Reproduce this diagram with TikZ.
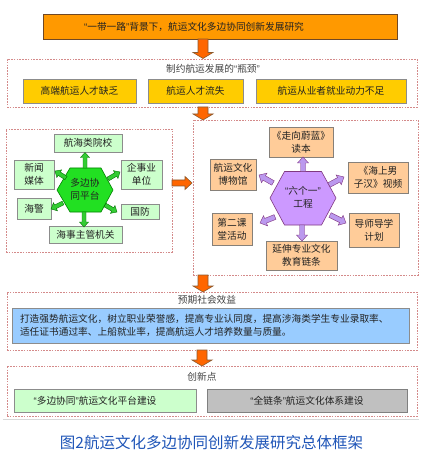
\documentclass[tikz,border=0pt]{standalone}
\usepackage{fontspec}
\setmainfont{Noto Sans CJK SC}
\newfontfamily\latq{Liberation Sans}
\newcommand\oq{{\latq “}}
\newcommand\cq{{\latq ”}}
\usetikzlibrary{calc}
\definecolor{topor}{HTML}{FF9900}
\definecolor{arrow}{HTML}{FF6600}
\definecolor{arrowbd}{HTML}{8C5A2E}
\definecolor{dashc}{HTML}{D48A8A}
\definecolor{yel}{HTML}{FFCC00}
\definecolor{lgreen}{HTML}{CCFFCC}
\definecolor{hgreen}{HTML}{22E022}
\definecolor{garrow}{HTML}{33CC33}
\definecolor{lorange}{HTML}{FFCC99}
\definecolor{purp}{HTML}{CC99FF}
\definecolor{parrow}{HTML}{BB99EE}
\definecolor{lblue}{HTML}{99CCFF}
\definecolor{gbox}{HTML}{C0C0C0}
\definecolor{capblue}{HTML}{1F55B8}
\definecolor{txt}{HTML}{222222}
\newcommand\barrow[6]{%
  \coordinate (bh) at ($(#3)!#6!(#2)$);
  \draw[#1] ($(#2)!#4!90:(#3)$) -- ($(bh)!#4!90:(#3)$) -- ($(bh)!#5!90:(#3)$) -- (#3)
    -- ($(bh)!#5!-90:(#3)$) -- ($(bh)!#4!-90:(#3)$) -- ($(#2)!#4!-90:(#3)$) -- cycle;}
\begin{document}
\begin{tikzpicture}[x=1pt,y=-1pt,
  every node/.style={text=txt, font=\fontsize{9.7pt}{13pt}\selectfont},
  boxbase/.style={draw=#1, line width=0.7pt, inner sep=0pt, align=center},
  topbox/.style={boxbase=arrowbd!80!black, fill=topor},
  yelbox/.style={boxbase=gray!90, fill=yel},
  grbox/.style={boxbase=gray!90, fill=lgreen},
  orbox/.style={boxbase=gray!90!brown, fill=lorange},
  blbox/.style={boxbase=gray!90, fill=lblue},
  gybox/.style={boxbase=gray, fill=gbox},
  dbox/.style={draw=dashc, line width=0.7pt, dash pattern=on 1.6pt off 1.2pt, inner sep=0pt},
  ttl/.style={text=txt!85},
  bigarr/.style={fill=arrow, draw=arrowbd, line width=0.6pt},
  grarr/.style={fill=garrow, draw=green!45!black, line width=0.4pt},
  prarr/.style={fill=parrow, draw=violet!60!gray, line width=0.4pt},
]
\useasboundingbox (0,0) rectangle (427,454);
\fill[white] (0,0) rectangle (427,454);

% top
\node[topbox, minimum width=354pt, minimum height=25pt] (top) at (220,26.5) {\oq 一带一路\cq 背景下，航运文化多边协同创新发展研究\hspace{52pt}};

% bottleneck box
\node[dbox, minimum width=410pt, minimum height=48pt] (bneck) at (212,83) {};
\node[ttl] (bneckt) at (213,68.5) {制约航运发展的\oq 瓶颈\cq};
\node[yelbox, minimum width=113pt, minimum height=24pt] (y1) at (79.5,91) {高端航运人才缺乏};
\node[yelbox, minimum width=95pt, minimum height=24pt] (y2) at (195.5,91) {航运人才流失};
\node[yelbox, minimum width=150pt, minimum height=24pt] (y3) at (331,91) {航运从业者就业动力不足};

% left cluster
\node[dbox, minimum width=166pt, minimum height=123pt] (left) at (89,190.5) {};
\draw[fill=hgreen, draw=green!50!black, line width=0.6pt] (57,190) -- (70,168) -- (101,168) -- (113,190) -- (101,212) -- (70,212) -- cycle;
\node[align=center] (hexL) at (85,189.5) {多边协\\同平台};
\node[grbox, minimum width=68pt, minimum height=18pt] (gb1) at (88,143) {航海类院校};
\node[grbox, minimum width=40pt, minimum height=29pt] (gb2) at (34,174.5) {新闻\\媒体};
\node[grbox, minimum width=41pt, minimum height=29pt] (gb3) at (141.5,174.5) {企事业\\单位};
\node[grbox, minimum width=34pt, minimum height=21pt] (gb4) at (34,208.5) {海警};
\node[grbox, minimum width=38pt, minimum height=15pt] (gb5) at (140,211.5) {国防};
\node[grbox, minimum width=73pt, minimum height=17pt] (gb6) at (85.5,234.5) {海事主管机关};
\coordinate (g1s) at (85,168); \coordinate (g1e) at (85,152.5);
\coordinate (g2s) at (66,178); \coordinate (g2e) at (55,171);
\coordinate (g3s) at (108,179); \coordinate (g3e) at (120,172);
\coordinate (g4s) at (63,203); \coordinate (g4e) at (51,209);
\coordinate (g5s) at (105,205); \coordinate (g5e) at (117,212);
\coordinate (g6s) at (84,212); \coordinate (g6e) at (84,227);
\foreach \i in {1,...,6}{\barrow{grarr}{g\i s}{g\i e}{2pt}{4.5pt}{5pt}}

% right cluster
\node[dbox, minimum width=225pt, minimum height=155pt] (right) at (305.5,197.5) {};
\draw[fill=purp, draw=violet!55!gray, line width=0.6pt] (270,198) -- (284.5,171.5) -- (321.5,171.5) -- (336,198) -- (321.5,225) -- (284.5,225) -- cycle;
\node[align=center] (hexR) at (303,197.5) {\oq 六个一\cq\\工程};
\node[orbox, minimum width=64pt, minimum height=30pt] (ob1) at (301,142) {《走向蔚蓝》\\读本};
\node[orbox, minimum width=46pt, minimum height=31pt] (ob2) at (233,174.5) {航运文化\\博物馆};
\node[orbox, minimum width=60pt, minimum height=31pt] (ob3) at (378,177.5) {《海上男\\子汉》视频};
\node[orbox, minimum width=40pt, minimum height=32pt] (ob4) at (232,229) {第二课\\堂活动};
\node[orbox, minimum width=50pt, minimum height=34pt] (ob5) at (374,230) {导师导学\\计划};
\node[orbox, minimum width=71pt, minimum height=29pt] (ob6) at (301.5,255.5) {延伸专业文化\\教育链条};
\coordinate (p1s) at (303,171.5); \coordinate (p1e) at (303,157);
\coordinate (p2s) at (273,183); \coordinate (p2e) at (259,175);
\coordinate (p3s) at (329,185); \coordinate (p3e) at (344,177);
\coordinate (p4s) at (275,217); \coordinate (p4e) at (260,223);
\coordinate (p5s) at (330,215); \coordinate (p5e) at (346,223);
\coordinate (p6s) at (302,225); \coordinate (p6e) at (302,241);
\foreach \i in {1,...,6}{\barrow{prarr}{p\i s}{p\i e}{2.5pt}{5.5pt}{6pt}}

% expected benefits
\node[dbox, minimum width=410pt, minimum height=58pt] (bene) at (212,321) {};
\node[ttl] (benet) at (207,300) {预期社会效益};
\node[blbox, minimum width=397pt, minimum height=35pt, text width=381pt, align=left] (blue) at (210.5,325.5)
  {打造强势航运文化，树立职业荣誉感，提高专业认同度，提高涉海类学生专业录取率、\\适任证书通过率、上船就业率，提高航运人才培养数量与质量。};

% innovation
\node[dbox, minimum width=410pt, minimum height=50pt] (innov) at (212,391) {};
\node[ttl] (innovt) at (202,377) {创新点};
\node[grbox, minimum width=182pt, minimum height=23pt] (i1) at (105,400.5) {\oq 多边协同\cq 航运文化平台建设\hspace{20pt}};
\node[gybox, minimum width=200pt, minimum height=23pt] (i2) at (307,400.5) {\oq 全链条\cq 航运文化体系建设};

\draw[gray!30, line width=0.6pt] (3,419) -- (419,419);

% big arrows
\coordinate (a1s) at (203,39); \coordinate (a1e) at (203,58.5);
\coordinate (a2s) at (203,107); \coordinate (a2e) at (203,120);
\coordinate (a3s) at (172,183); \coordinate (a3e) at (192,183);
\coordinate (a4s) at (203,275); \coordinate (a4e) at (203,292);
\coordinate (a5s) at (202,350); \coordinate (a5e) at (202,366);
\barrow{bigarr}{a1s}{a1e}{5pt}{10pt}{6pt}
\barrow{bigarr}{a2s}{a2e}{5pt}{10pt}{6pt}
\barrow{bigarr}{a3s}{a3e}{3pt}{6.5pt}{7pt}
\barrow{bigarr}{a4s}{a4e}{5pt}{10pt}{6pt}
\barrow{bigarr}{a5s}{a5e}{5pt}{10pt}{6pt}

% caption
\node[text=capblue, font=\fontsize{15.5pt}{18pt}\selectfont] (cap) at (211.5,443) {图2航运文化多边协同创新发展研究总体框架};
\end{tikzpicture}
\end{document}
